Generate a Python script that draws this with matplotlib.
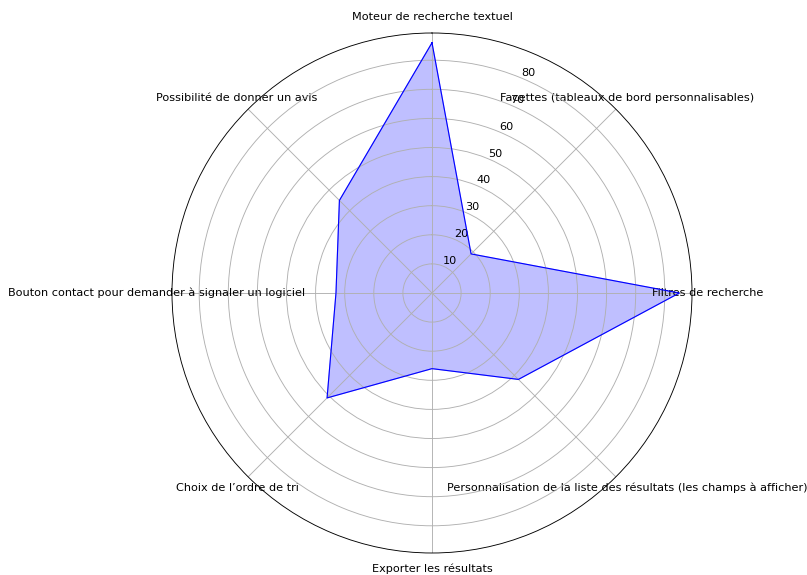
import numpy as np
import matplotlib
matplotlib.use('Agg')
import matplotlib.pyplot as plt

categories = [
    "Moteur de recherche textuel",
    "Facettes (tableaux de bord personnalisables)",
    "Filtres de recherche",
    "Personnalisation de la liste des résultats (les champs à afficher)",
    "Exporter les résultats",
    "Choix de l’ordre de tri",
    "Bouton contact pour demander à signaler un logiciel",
    "Possibilité de donner un avis",
]
values = [86, 19, 85, 42, 26, 51, 33, 45]

n = len(categories)
angles = [i / n * 2 * np.pi for i in range(n)]
angles_closed = angles + angles[:1]
values_closed = values + values[:1]

# drawn at 10in wide and scaled down, like the reference
fig = plt.figure(figsize=(10, 575 / 80.7), dpi=80.7)
ax = fig.add_subplot(111, polar=True)
ax.set_position([(432 - 260) / 807, (575 - 293 - 260) / 575, 520 / 807, 520 / 575])

ax.set_theta_offset(np.pi / 2)
ax.set_theta_direction(-1)

ax.plot(angles_closed, values_closed, color='blue', linewidth=1)
ax.fill(angles_closed, values_closed, color='blue', alpha=0.25)

ax.set_xticks(angles)
ax.set_xticklabels(categories)

fig.savefig('out.png', dpi=80.7)
